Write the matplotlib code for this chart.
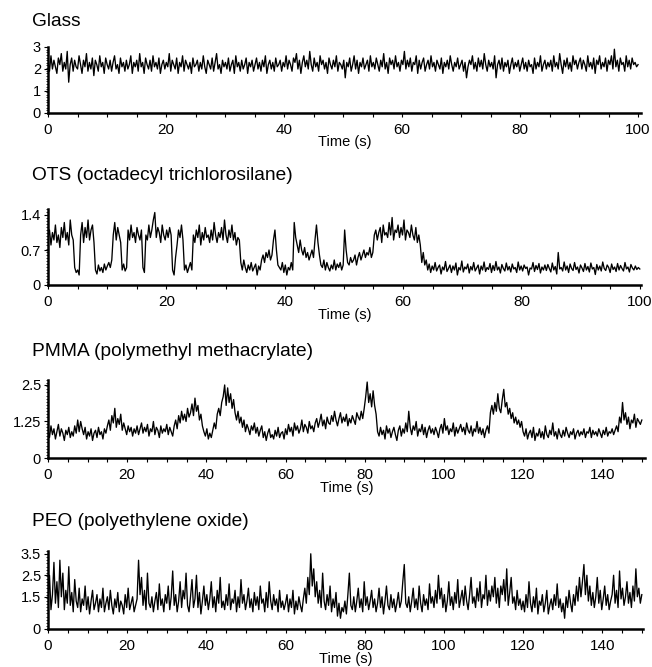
import numpy as np
import matplotlib
matplotlib.use("Agg")
import matplotlib.pyplot as plt
from matplotlib.ticker import MultipleLocator

plt.rcParams['font.family'] = ['Liberation Sans', 'DejaVu Sans']

# ---------------- data ----------------
titles = ["Glass", "OTS (octadecyl trichlorosilane)",
          "PMMA (polymethyl methacrylate)", "PEO (polyethylene oxide)"]

glass_duration = 100.0
glass = [
    2.3, 1.9, 2.6, 2.0, 2.4, 2.1, 1.8, 2.5, 2.2, 2.7, 1.9, 2.3, 2.0, 2.8, 1.4, 2.2, 2.5, 1.9, 2.4, 2.1,
    2.0, 2.6, 2.2, 1.8, 2.4, 2.1, 2.7, 1.9, 2.3, 2.0, 2.5, 1.7, 2.4, 2.2, 1.9, 2.6, 2.1, 2.3, 1.8, 2.5,
    2.2, 2.0, 2.4, 1.9, 2.3, 2.6, 2.0, 2.2, 1.8, 2.5, 2.1, 2.3, 1.9, 2.4, 2.0, 2.2, 2.6, 1.8, 2.3, 2.1,
    2.4, 1.9, 2.7, 2.1, 2.3, 1.8, 2.5, 2.2, 2.0, 2.4, 1.9, 2.6, 2.1, 2.3, 2.0, 2.5, 1.8, 2.2, 2.4, 2.0,
    2.3, 2.1, 2.7, 1.9, 2.4, 2.2, 2.0, 2.5, 1.8, 2.3, 2.1, 2.6, 1.9, 2.4, 2.2, 2.0, 2.3, 1.8, 2.5, 2.1,
    2.2, 2.4, 1.9, 2.3, 2.0, 2.6, 2.1, 1.8, 2.4, 2.2, 2.0, 2.5, 1.9, 2.3, 2.7, 2.0, 2.2, 1.8, 2.4, 2.1,
    2.3, 2.0, 2.5, 1.9, 2.2, 2.4, 1.8, 2.6, 2.1, 2.3, 1.9, 2.4, 2.0, 2.2, 2.5, 1.8, 2.3, 2.1, 2.4, 1.9,
    2.2, 2.5, 2.0, 2.3, 1.9, 2.4, 2.1, 2.6, 1.8, 2.2, 2.4, 2.0, 2.3, 1.9, 2.5, 2.1, 2.2, 2.4, 1.9, 2.3,
    2.1, 2.6, 2.0, 2.4, 2.2, 1.9, 2.5, 2.3, 2.7, 2.0, 2.4, 1.8, 2.3, 2.6, 2.1, 2.4, 2.0, 2.8, 2.2, 1.9,
    2.5, 2.1, 2.3, 1.9, 2.6, 2.2, 2.4, 2.0, 2.3, 1.8, 2.5, 2.2, 2.0, 2.4, 2.1, 2.6, 1.9, 2.3, 2.2, 2.0,
    2.4, 1.6, 2.3, 2.1, 2.5, 1.9, 2.2, 2.6, 2.0, 2.4, 1.8, 2.3, 2.1, 2.5, 2.0, 2.2, 2.4, 1.9, 2.6, 2.1,
    2.3, 2.0, 2.5, 2.2, 1.9, 2.4, 2.1, 2.7, 2.0, 2.3, 1.8, 2.5, 2.2, 2.4, 2.0, 2.6, 2.1, 2.3, 1.9, 2.4,
    2.2, 2.8, 2.0, 2.4, 2.1, 2.5, 1.9, 2.3, 2.2, 2.6, 1.8, 2.4, 2.0, 2.3, 2.5, 1.9, 2.2, 2.4, 2.0, 2.6,
    2.1, 2.3, 1.9, 2.4, 2.2, 2.0, 2.5, 1.8, 2.3, 2.1, 2.4, 2.0, 2.6, 2.2, 1.9, 2.3, 2.1, 2.5, 2.0, 2.2,
    2.4, 1.9, 2.3, 1.6, 2.1, 2.4, 2.2, 2.6, 2.0, 2.3, 1.9, 2.5, 2.1, 2.4, 2.0, 2.7, 2.2, 1.9, 2.4, 2.1,
    2.3, 2.0, 2.6, 1.6, 2.2, 2.4, 2.0, 2.5, 1.9, 2.3, 2.1, 2.4, 1.8, 2.2, 2.5, 2.0, 2.3, 2.1, 2.4, 1.9,
    2.2, 2.5, 2.0, 2.3, 1.9, 2.4, 2.1, 2.2, 1.8, 2.5, 2.0, 2.3, 2.1, 2.6, 1.9, 2.2, 2.4, 2.0, 2.3, 2.1,
    2.4, 1.9, 2.6, 2.1, 2.3, 2.0, 2.7, 2.2, 1.8, 2.4, 2.1, 2.5, 2.0, 2.3, 1.9, 2.6, 2.2, 2.4, 2.0, 2.3,
    2.5, 2.0, 2.4, 2.2, 1.9, 2.6, 2.1, 2.3, 2.0, 2.5, 1.8, 2.4, 2.2, 2.6, 2.0, 2.3, 2.1, 2.5, 1.9, 2.4,
    2.2, 2.6, 2.0, 2.9, 2.1, 2.4, 1.9, 2.5, 2.2, 2.3, 1.9, 2.6, 2.1, 2.4, 2.0, 2.5, 2.2, 2.3, 2.1, 2.2,
]

ots_duration = 100.0
ots = [
    0.95, 1.1, 0.8, 1.05, 0.9, 1.2, 0.85, 1.0, 0.75, 1.15, 0.95, 1.25, 0.9, 1.05, 0.8, 1.3, 1.0, 0.9,
    0.35, 0.25, 0.3, 0.2,
    1.0, 1.25, 0.85, 1.15, 0.95, 1.3, 0.9, 1.1, 1.2, 0.85,
    0.3, 0.22, 0.4, 0.28, 0.35, 0.25, 0.42, 0.3, 0.38, 0.45, 0.35, 0.5,
    1.0, 1.25, 0.9, 1.15, 1.0, 0.85,
    0.3, 0.42, 0.28, 0.35,
    1.1, 0.9, 1.2, 0.95, 1.05, 0.85, 1.15, 1.0, 0.9, 1.1,
    0.35, 0.25,
    1.0, 0.9, 1.2, 0.95, 1.1, 1.3, 1.45, 0.95, 1.15, 1.05, 0.85, 1.2, 1.0, 0.9, 1.1, 0.95, 1.15, 1.0,
    0.3, 0.2, 0.55, 0.8,
    1.1, 0.95, 1.2, 0.9,
    0.3, 0.4, 0.25, 0.35, 0.45, 0.3,
    1.0, 0.85, 1.1, 0.95, 1.2, 0.8, 1.05, 0.9, 1.15, 0.95, 1.0, 0.85, 1.1, 0.9, 1.25, 1.0,
    0.85, 1.05, 0.95, 1.15, 0.9, 1.3, 1.0, 0.85, 1.1, 0.95, 1.2, 0.9, 1.05, 0.8, 0.95, 0.9,
    0.45, 0.3, 0.5, 0.35, 0.25, 0.4, 0.3, 0.45, 0.28, 0.35, 0.42, 0.2, 0.38, 0.3,
    0.5, 0.6, 0.45, 0.65, 0.55, 0.7, 0.5, 0.6,
    0.9, 1.1, 0.7, 0.4,
    0.35, 0.3, 0.45, 0.25, 0.4, 0.2, 0.35, 0.3, 0.45, 0.3,
    1.25, 0.95,
    0.8, 0.65, 0.9, 0.7, 0.6, 0.75, 0.55, 0.65, 0.5, 0.6, 0.7, 0.55,
    0.9, 1.2, 0.85, 0.6,
    0.4, 0.35, 0.5, 0.3, 0.45, 0.35, 0.28, 0.4, 0.32, 0.5, 0.3, 0.42, 0.35, 0.45, 0.3, 0.4,
    1.1, 0.7,
    0.45, 0.4, 0.55, 0.45, 0.5, 0.6, 0.4, 0.55, 0.65, 0.5, 0.6, 0.7, 0.55, 0.65, 0.6, 0.75, 0.55, 0.65,
    1.0, 1.1, 0.9, 1.05, 1.15, 0.85, 1.2, 1.0, 1.05, 0.95, 1.25, 1.0, 1.35, 0.9, 1.1, 1.05,
    1.2, 0.95, 1.15, 1.0, 1.3, 0.9, 1.1, 1.05, 0.95, 1.2, 1.0, 0.9, 1.15, 0.85, 1.0, 0.8,
    0.45, 0.65, 0.4, 0.5,
    0.3, 0.42, 0.25, 0.38, 0.3, 0.45, 0.28, 0.35, 0.4, 0.22, 0.36, 0.3, 0.47, 0.27, 0.33, 0.4, 0.25, 0.38,
    0.3, 0.44, 0.2, 0.35, 0.3, 0.48, 0.26, 0.36, 0.32, 0.42, 0.24, 0.37, 0.3, 0.45, 0.28, 0.34, 0.4, 0.22,
    0.38, 0.3, 0.46, 0.27, 0.35, 0.31, 0.43, 0.25, 0.39, 0.29, 0.47, 0.3, 0.36, 0.24, 0.41, 0.33, 0.28, 0.44,
    0.3, 0.37, 0.26, 0.42, 0.32, 0.35, 0.25, 0.46, 0.3, 0.38, 0.28, 0.4, 0.33, 0.36, 0.2, 0.34, 0.32, 0.45,
    0.27, 0.39, 0.31, 0.43, 0.24, 0.36, 0.3, 0.4, 0.29, 0.41, 0.33, 0.26, 0.44, 0.3, 0.37, 0.22, 0.65, 0.32,
    0.35, 0.28, 0.46, 0.3, 0.38, 0.25, 0.42, 0.33, 0.29, 0.45, 0.31, 0.36, 0.24, 0.4, 0.34, 0.27, 0.43, 0.3,
    0.37, 0.26, 0.44, 0.32, 0.35, 0.21, 0.41, 0.3, 0.38, 0.28, 0.46, 0.33, 0.29, 0.4, 0.35, 0.25, 0.42, 0.31,
    0.36, 0.27, 0.43, 0.3, 0.39, 0.33, 0.28, 0.45, 0.32, 0.36, 0.26, 0.41, 0.34, 0.3, 0.38, 0.31, 0.35, 0.32,
]

pmma_duration = 150.0
pmma = [
    0.95, 0.7, 1.1, 0.8, 1.0, 0.65, 0.9, 1.15, 0.75, 1.0, 0.85, 0.6, 0.95, 0.8, 1.05, 0.7, 0.9, 0.75, 1.1, 0.85,
    1.3, 0.9, 1.25, 1.0, 0.8, 1.05, 0.65, 0.9, 0.75, 1.0, 0.6, 0.85, 0.95, 0.7, 1.05, 0.8, 0.9, 0.65, 1.0, 0.85,
    1.1, 1.3, 0.95, 1.45, 1.2, 1.7, 1.05, 1.35, 1.15, 1.5, 0.95, 1.2, 1.0, 0.8, 1.1, 0.9, 1.05, 0.75, 1.0, 0.85,
    1.1, 0.8, 1.0, 1.2, 0.85, 1.05, 0.9, 1.15, 0.75, 1.0, 0.9, 1.25, 0.8, 1.05, 0.95, 0.7, 1.1, 0.85, 1.0, 0.9,
    1.15, 0.8, 1.05, 0.9, 0.75, 1.1, 1.3, 1.0, 1.45, 1.2, 1.6, 1.3, 1.5, 1.25, 1.7, 1.4, 1.55, 1.85, 1.45, 2.05,
    1.6, 1.8, 1.3, 1.5, 1.1, 0.9, 0.75, 1.0, 0.65, 0.85, 0.7, 0.95, 1.2, 1.0, 1.5, 1.7, 1.45, 1.9, 2.1, 2.5,
    1.8, 2.4, 1.9, 2.2, 1.7, 2.0, 1.55, 1.3, 1.6, 1.2, 1.4, 1.05, 1.3, 0.9, 1.15, 1.0, 0.8, 1.1, 0.95, 1.2,
    0.85, 1.05, 0.75, 0.95, 1.1, 0.7, 0.9, 0.6, 0.85, 1.0, 0.7, 0.8, 0.65, 0.95, 0.75, 1.05, 0.7, 0.85, 0.9, 0.65,
    1.0, 0.8, 1.15, 0.9, 1.05, 0.75, 1.2, 0.95, 1.1, 0.85, 1.0, 1.3, 0.9, 1.15, 1.05, 0.85, 1.25, 1.0, 1.1, 0.9,
    1.2, 1.35, 1.05, 1.25, 1.5, 1.1, 1.3, 1.0, 1.4, 1.2, 1.15, 1.45, 1.25, 1.6, 1.3, 1.1, 1.35, 1.55, 1.2, 1.4,
    1.25, 1.5, 1.1, 1.35, 1.2, 1.45, 1.3, 1.15, 1.55, 1.4, 1.3, 1.6, 1.35, 1.7, 2.1, 2.6, 1.9, 2.2, 1.75, 2.3,
    1.8, 1.5, 0.9, 0.75, 1.05, 0.8, 0.95, 0.65, 1.1, 0.85, 1.0, 0.7, 0.9, 1.05, 0.8, 0.6, 0.95, 1.1, 0.75, 1.0,
    0.85, 1.2, 0.9, 1.6, 1.05, 0.8, 1.1, 0.95, 1.25, 0.75, 1.0, 0.9, 1.15, 0.8, 1.05, 0.7, 0.95, 1.1, 0.85, 1.0,
    0.8, 1.05, 0.9, 0.7, 1.0, 1.15, 0.85, 1.35, 0.95, 1.1, 0.8, 1.0, 0.9, 1.2, 0.75, 1.05, 0.85, 1.0, 1.15, 0.9,
    1.05, 0.8, 1.2, 0.95, 0.85, 1.1, 0.75, 1.0, 0.9, 1.25, 0.85, 1.05, 0.8, 1.0, 0.7, 0.95, 1.1, 0.85, 1.55, 1.8,
    1.5, 1.9, 1.6, 2.2, 1.7, 1.55, 2.0, 2.35, 1.75, 1.9, 1.5, 1.7, 1.35, 1.55, 1.2, 1.4, 1.15, 1.3, 1.05, 1.25,
    0.9, 0.75, 1.0, 0.65, 0.85, 0.95, 0.7, 1.05, 0.6, 0.85, 0.75, 1.0, 0.7, 0.9, 0.65, 1.1, 0.8, 0.7, 0.95, 0.8,
    1.2, 0.75, 0.9, 0.65, 1.0, 0.8, 0.7, 0.95, 0.75, 1.05, 0.85, 0.7, 0.9, 0.8, 1.0, 0.65, 0.85, 0.95, 0.75, 0.9,
    0.8, 1.0, 0.7, 0.9, 0.85, 1.05, 0.7, 0.95, 0.8, 0.9, 0.75, 1.0, 0.85, 0.7, 0.95, 0.8, 1.05, 0.75, 0.9, 0.85,
    1.0, 0.8, 0.95, 1.1, 0.9, 1.4, 1.2, 1.9, 1.3, 1.55, 1.15, 1.4, 1.0, 1.3, 1.2, 1.5, 1.05, 1.35, 1.25, 1.15, 1.3,
]

peo_duration = 150.0
peo = [
    1.3, 2.5, 0.9, 1.6, 3.1, 1.2, 2.2, 1.0, 3.2, 1.5, 2.6, 0.9, 1.8, 1.2, 2.9, 1.1, 1.7, 0.8, 2.3, 1.3,
    1.0, 1.9, 0.8, 1.4, 1.1, 2.0, 0.9, 1.5, 0.7, 1.3, 1.8, 0.9, 1.2, 1.6, 0.8, 1.4, 1.0, 1.9, 0.8, 1.2,
    1.5, 0.9, 1.8, 1.1, 0.7, 1.4, 1.0, 1.7, 0.8, 1.3, 1.1, 0.7, 1.6, 1.0, 1.9, 0.9, 1.2, 1.5, 0.8, 1.1,
    1.4, 3.2, 1.6, 2.4, 1.1, 1.8, 0.9, 2.6, 1.2, 1.0, 1.5, 0.8, 1.3, 1.7, 0.9, 2.1, 1.1, 1.4, 0.8, 1.6,
    1.2, 2.0, 0.9, 1.5, 2.7, 1.1, 1.6, 0.8, 1.3, 2.2, 1.0, 1.8, 1.4, 2.6, 1.1, 0.8, 1.5, 2.3, 1.0, 1.4,
    2.5, 1.0, 1.7, 0.7, 1.3, 2.0, 1.1, 1.6, 0.9, 1.4, 2.2, 1.0, 1.5, 0.8, 1.8, 1.2, 2.4, 1.0, 1.3, 0.9,
    1.6, 1.1, 2.1, 0.9, 1.4, 1.2, 1.8, 0.8, 1.5, 1.0, 2.3, 1.2, 1.6, 0.9, 1.3, 1.9, 1.0, 1.4, 0.8, 1.7,
    1.1, 1.5, 0.9, 2.0, 1.2, 1.4, 0.8, 1.7, 1.0, 2.2, 1.3, 0.9, 1.6, 1.1, 1.4, 0.8, 1.8, 1.0, 1.3, 0.9,
    1.2, 1.6, 0.8, 1.4, 1.0, 1.8, 0.7, 1.3, 0.9, 1.5, 1.1, 0.8, 1.4, 1.9, 1.2, 2.4, 1.6, 3.5, 2.0, 2.8,
    1.5, 2.2, 1.2, 1.8, 1.0, 2.6, 1.3, 0.9, 1.6, 1.1, 2.0, 0.8, 1.4, 1.0, 1.7, 0.6, 1.2, 0.5, 1.0, 0.8,
    1.3, 0.7, 1.6, 2.6, 1.1, 0.9, 1.5, 0.8, 1.3, 1.9, 1.0, 1.4, 0.8, 2.2, 1.1, 1.5, 0.9, 1.3, 1.8, 1.0,
    1.4, 0.8, 1.2, 1.9, 1.0, 1.5, 0.7, 1.3, 2.0, 1.1, 0.9, 1.6, 1.0, 1.4, 0.8, 1.2, 1.7, 1.0, 1.3, 2.2,
    3.0, 1.2, 1.0, 1.5, 0.8, 1.3, 1.9, 1.0, 1.4, 0.9, 2.0, 1.2, 0.8, 1.6, 1.1, 1.4, 0.9, 2.1, 1.2, 1.5,
    1.0, 1.8, 1.2, 2.5, 1.4, 1.9, 1.0, 1.6, 0.8, 1.3, 2.2, 1.1, 1.5, 0.9, 1.7, 1.2, 2.3, 1.0, 1.4, 1.8,
    1.1, 2.0, 1.3, 0.9, 1.6, 2.4, 1.2, 1.5, 1.0, 1.9, 1.3, 2.2, 1.0, 1.6, 1.4, 2.5, 1.1, 1.8, 1.3, 2.0,
    1.5, 2.4, 1.2, 1.9, 1.0, 2.0, 1.6, 2.3, 1.3, 2.8, 1.1, 1.7, 2.4, 1.2, 1.5, 0.9, 1.8, 1.1, 1.4, 0.9,
    1.3, 0.8, 1.6, 1.0, 2.2, 1.2, 0.8, 1.5, 1.0, 1.9, 0.7, 1.3, 1.1, 1.6, 0.8, 1.2, 1.8, 0.7, 1.1, 1.4,
    0.9, 1.6, 1.1, 2.1, 1.0, 1.4, 0.8, 1.2, 0.5, 1.5, 1.0, 1.8, 1.2, 0.8, 1.6, 1.1, 2.0, 1.3, 2.4, 1.5,
    2.2, 3.0, 1.6, 2.5, 1.3, 2.0, 1.1, 1.7, 1.0, 1.5, 2.4, 1.2, 1.8, 0.9, 1.4, 2.0, 1.1, 1.6, 0.9, 1.3,
    1.6, 2.5, 1.2, 1.8, 1.0, 2.7, 1.4, 1.9, 1.1, 1.5, 2.2, 1.2, 1.7, 1.0, 2.0, 1.3, 2.8, 1.5, 1.9, 1.2, 1.6,
]

series = [glass, ots, pmma, peo]
durations = [glass_duration, ots_duration, pmma_duration, peo_duration]

yticks = [[0, 1, 2, 3], [0, 0.7, 1.4], [0, 1.25, 2.5], [0, 1.5, 2.5, 3.5]]
ytick_labels = [["0", "1", "2", "3"], ["0", "0.7", "1.4"],
                ["0", "1.25", "2.5"], ["0", "1.5", "2.5", "3.5"]]
xticks = [list(range(0, 101, 20)), list(range(0, 101, 20)),
          list(range(0, 141, 20)), list(range(0, 141, 20))]
xlabel = "Time (s)"

# ---------------- layout ----------------
W, H = 652, 667
fig = plt.figure(figsize=(W / 100, H / 100), dpi=100)

# (left px, right px, top px, bottom px, xmax, ymax, title centre y px)
boxes = [
    (48, 641, 47, 113, 100.5, 3.0, 21),
    (48, 641, 209, 285, 100.2, 1.52, 175),
    (48, 645, 380, 458, 150.8, 2.67, 352),
    (48, 643, 551, 629, 150.3, 3.63, 522),
]
xlabel_offsets = [29, 30, 30, 30]

for i, (l, r, t, b, xmax, ymax, ty) in enumerate(boxes):
    ax = fig.add_axes([l / W, 1 - b / H, (r - l) / W, (b - t) / H])
    y = np.asarray(series[i], dtype=float)
    x = np.linspace(0, durations[i], len(y))
    ax.plot(x, y, color="black", lw=0.95)
    ax.set_xlim(0, xmax)
    ax.set_ylim(0, ymax)
    for s in ("top", "right"):
        ax.spines[s].set_visible(False)
    for s in ("left", "bottom"):
        ax.spines[s].set_linewidth(1.8)
    ax.set_xticks(xticks[i])
    ax.set_xticklabels([str(v) for v in xticks[i]])
    ax.xaxis.set_minor_locator(MultipleLocator(5))
    ax.set_yticks(yticks[i])
    ax.set_yticklabels(ytick_labels[i])
    ax.yaxis.set_minor_locator(MultipleLocator(ymax / 25))
    ax.tick_params(axis="x", which="major", direction="out", length=3, width=0.8,
                   pad=4, labelsize=11)
    ax.tick_params(axis="x", which="minor", direction="out", length=3, width=0.8)
    ax.tick_params(axis="y", which="major", direction="out", length=3, width=0.8,
                   pad=2, labelsize=10.5)
    ax.tick_params(axis="y", which="minor", direction="out", length=1.5, width=0.6)
    ax.annotate(xlabel, xy=(0.5, 0), xycoords="axes fraction",
                xytext=(0, -xlabel_offsets[i] * 0.72), textcoords="offset points",
                ha="center", va="center", fontsize=10.5)
    fig.text(32 / W, 1 - ty / H, titles[i], ha="left", va="center", fontsize=13.8)

fig.savefig("out.png", dpi=100)
